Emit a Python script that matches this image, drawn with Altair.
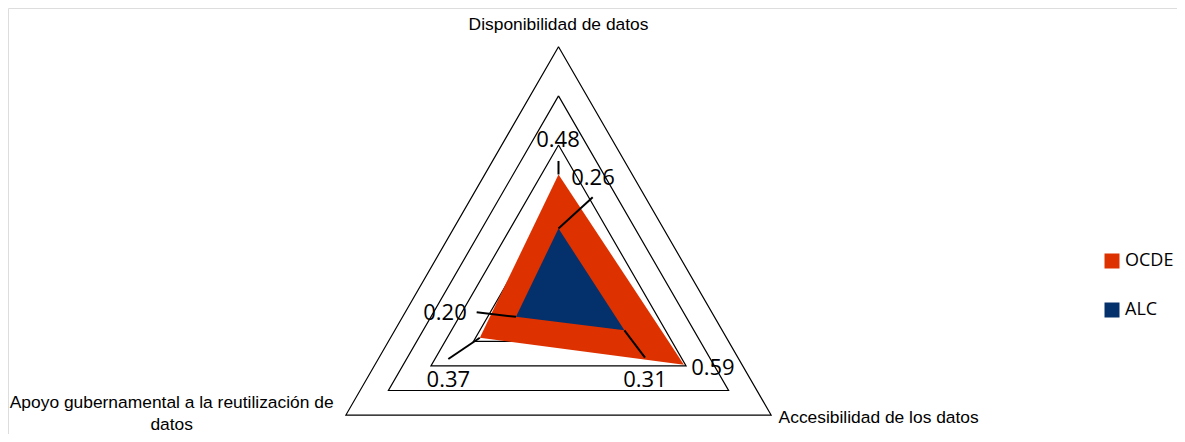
import altair as alt
import pandas as pd

# ---------------- data ----------------
axes = [
    "Disponibilidad de datos",
    "Accesibilidad de los datos",
    "Apoyo gubernamental a la reutilización de\ndatos",
]
series = ["OCDE", "ALC"]
ocde = [0.48, 0.59, 0.37]
alc = [0.26, 0.31, 0.20]
grid_levels = [0.2, 0.4, 0.6, 0.8, 1.0]
colors = ["#DE3100", "#04306B"]

# ---------------- layout (pixels) ----------------
W, H = 1169, 426
R_PX = 245.5          # radius of value 1.0
CX, CY = 550.5, 284.3  # centre inside the plot area
NUM_FONT = "Open Sans"
TITLE_FONT = "Liberation Sans"

# label offsets from each vertex (px, screen y down)
label_dx = {"OCDE": [-0.5, 29.0, -31.5], "ALC": [34.5, 20.6, -71.0]}
label_dy = {"OCDE": [-34.5, 2.8, 42.3], "ALC": [-50.5, 49.6, -3.8]}
# leader-line end offsets (None = no leader)
lead_dx = {"OCDE": [0.0, None, -31.5], "ALC": [34.2, 20.6, -39.3]}
lead_dy = {"OCDE": [-13.5, None, 21.3], "ALC": [-31.2, 27.3, -4.5]}
# axis title offsets from outer vertex
title_dx = [0.0, 7.5, -174.2]
title_dy = [-22.0, 2.5, -12.5]
title_align = ["center", "left", "center"]

xs = alt.Scale(domain=[-CX / R_PX, (W - CX) / R_PX], nice=False, zero=False)
ys = alt.Scale(domain=[-(H - CY) / R_PX, CY / R_PX], nice=False, zero=False)


def X(f):
    return alt.X(f, type="quantitative", scale=xs, axis=None)


def Y(f):
    return alt.Y(f, type="quantitative", scale=ys, axis=None)


polar = dict(ang="datum.idx * 2 * PI / 3")
cart = dict(
    px="datum.value * sin(datum.ang)",
    py="datum.value * cos(datum.ang)",
)

# ---------------- tables ----------------
poly_rows = []
for s, vals in zip(series, [ocde, alc]):
    for k in range(4):
        i = k % 3
        poly_rows.append(dict(series=s, idx=i, order=k, value=vals[i]))
poly = pd.DataFrame(poly_rows)

grid_rows = []
for lv in grid_levels:
    for k in range(4):
        grid_rows.append(dict(level=lv, idx=k % 3, order=k, value=lv))
grid = pd.DataFrame(grid_rows)

lab_rows = []
for s, vals in zip(series, [ocde, alc]):
    for i in range(3):
        lab_rows.append(dict(series=s, idx=i, value=vals[i],
                             ldx=label_dx[s][i], ldy=label_dy[s][i],
                             has_lead=lead_dx[s][i] is not None,
                             edx=lead_dx[s][i] if lead_dx[s][i] is not None else 0.0,
                             edy=lead_dy[s][i] if lead_dy[s][i] is not None else 0.0))
labs = pd.DataFrame(lab_rows)

titles = pd.DataFrame(dict(axis=axes, idx=[0, 1, 2], value=[1.0, 1.0, 1.0],
                           tdx=title_dx, tdy=title_dy))

# ---------------- layers ----------------
grid_layer = (
    alt.Chart(grid)
    .transform_calculate(**polar)
    .transform_calculate(**cart)
    .mark_line(color="black", strokeWidth=1.2)
    .encode(x=X("px"), y=Y("py"), detail="level:N", order="order:Q")
)

fill_layer = (
    alt.Chart(poly)
    .transform_calculate(**polar)
    .transform_calculate(**cart)
    .mark_line(strokeWidth=0, fillOpacity=1)
    .encode(
        x=X("px"),
        y=Y("py"),
        order="order:Q",
        fill=alt.Fill(
            "series:N",
            scale=alt.Scale(domain=series, range=colors),
            sort=series,
            legend=alt.Legend(
                title=None,
                orient="none",
                legendX=1095,
                legendY=244,
                symbolType="square",
                symbolSize=225,
                symbolStrokeWidth=0,
                symbolOpacity=1,
                labelFont=NUM_FONT,
                labelFontSize=18,
                labelColor="black",
                labelOffset=4,
                rowPadding=31,
                padding=0,
            ),
        ),
        detail="series:N",
    )
)

leader_layer = (
    alt.Chart(labs)
    .transform_filter("datum.has_lead")
    .transform_calculate(**polar)
    .transform_calculate(**cart)
    .transform_calculate(
        ex=f"datum.px + datum.edx / {R_PX}",
        ey=f"datum.py - datum.edy / {R_PX}",
    )
    .mark_rule(color="black", strokeWidth=2)
    .encode(x=X("px"), y=Y("py"), x2="ex:Q", y2="ey:Q")
)

text_layer = (
    alt.Chart(labs)
    .transform_calculate(**polar)
    .transform_calculate(**cart)
    .transform_calculate(
        lx=f"datum.px + datum.ldx / {R_PX}",
        ly=f"datum.py - datum.ldy / {R_PX}",
    )
    .mark_text(font=NUM_FONT, fontSize=22, align="center", baseline="middle", color="black")
    .encode(x=X("lx"), y=Y("ly"), text=alt.Text("value:Q", format=".2f"))
)

title_layers = []
for i, al in enumerate(title_align):
    title_layers.append(
        alt.Chart(titles)
        .transform_filter(f"datum.idx == {i}")
        .transform_calculate(**polar)
        .transform_calculate(**cart)
        .transform_calculate(
            tx=f"datum.px + datum.tdx / {R_PX}",
            ty=f"datum.py - datum.tdy / {R_PX}",
        )
        .mark_text(font=TITLE_FONT, fontSize=17.4, align=al, baseline="middle",
                   color="black", lineBreak="\n", lineHeight=22)
        .encode(x=X("tx"), y=Y("ty"), text="axis:N")
    )

chart = (
    alt.layer(grid_layer, fill_layer, leader_layer, text_layer, *title_layers)
    .properties(width=W, height=H, autosize=alt.AutoSizeParams(type="none"), padding=0)
    .configure_view(strokeWidth=0, stroke="transparent")
    .configure(background="white")
)

chart.save("out.html", embed_options={"renderer": "svg", "actions": False})
